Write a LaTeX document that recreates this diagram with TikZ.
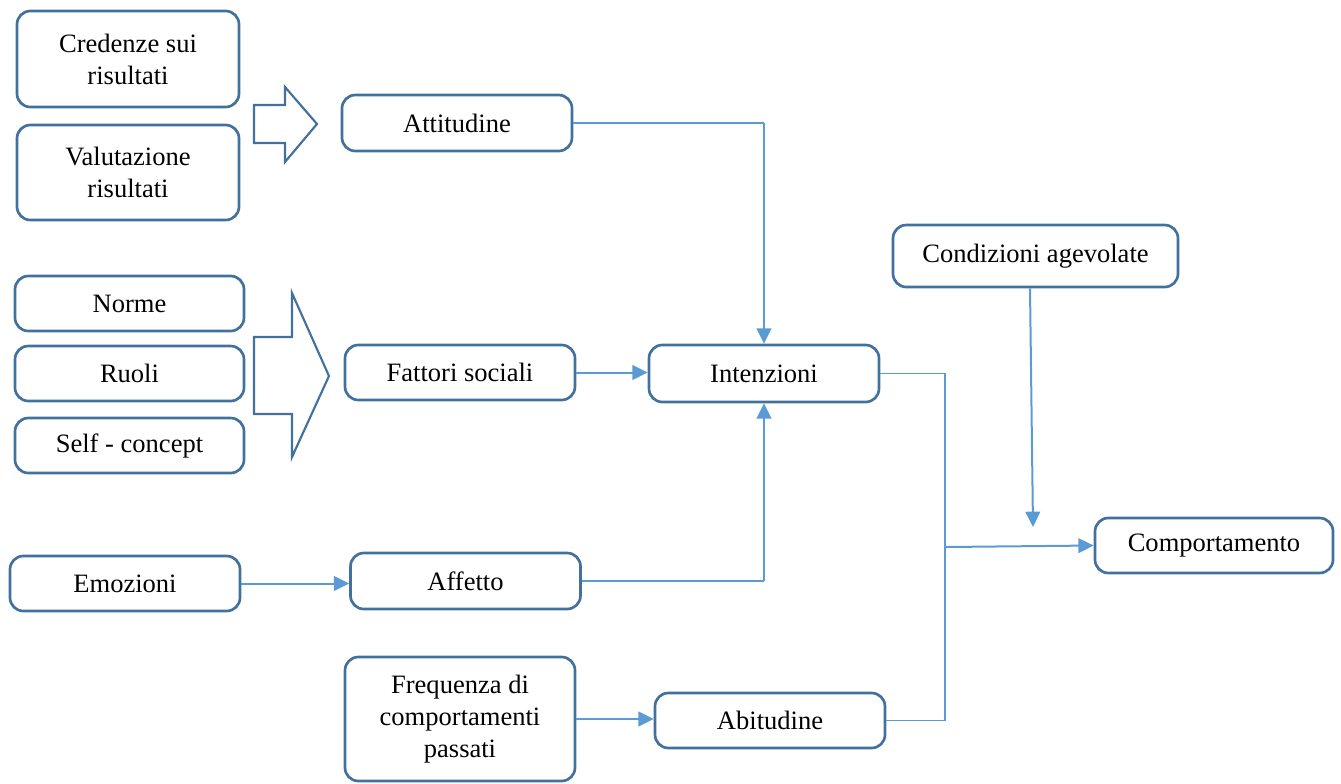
\documentclass[tikz,border=0pt]{standalone}
\usepackage{fontspec}
\setmainfont{Liberation Serif}
\usepackage{xcolor}
\usetikzlibrary{arrows.meta}
\definecolor{boxblue}{RGB}{65,113,156}
\definecolor{linkblue}{RGB}{91,155,213}
\tikzset{
  blk/.style={draw=boxblue, line width=2pt, rounded corners=10pt, fill=white,
    align=center, inner sep=0pt, minimum width=172.5pt, minimum height=41.25pt,
    font=\fontsize{19.9}{24}\selectfont},
  bigarr/.style={draw=boxblue, line width=1.6pt, fill=white, line join=miter},
  thinlink/.style={draw=linkblue, line width=0.8pt},
  arrlink/.style={draw=linkblue, line width=1.5pt, -{Triangle[length=11.5pt,width=11pt]}}
}
\begin{document}
\begin{tikzpicture}[x=0.75pt,y=0.75pt,yscale=-1,xscale=1]
\useasboundingbox (0,0) rectangle (1341,783);

%Shape: Rounded Rectangle [left column]
\node[blk, minimum width=166.5pt, minimum height=72pt] (cred) at (128,59) {Credenze sui\\risultati};
\node[blk, minimum width=166.5pt, minimum height=71.25pt] (valu) at (128,172.5) {Valutazione\\risultati};
\node[blk, minimum width=171.75pt] (norme) at (129.5,303.5) {Norme};
\node[blk, minimum width=171.75pt] (ruoli) at (129.5,373.5) {Ruoli};
\node[blk, minimum width=171.75pt] (self) at (129.5,445.5) {Self - concept};
\node[blk] (emoz) at (125,583.5) {Emozioni};

%Shape: Rounded Rectangle [middle column]
\node[blk, minimum height=42pt] (att) at (457,123) {Attitudine};
\node[blk] (fatt) at (460,372.5) {Fattori sociali};
\node[blk, minimum height=42pt] (aff) at (465.5,581) {Affetto};
\node[blk, minimum height=93pt] (freq) at (460,719) {Frequenza di\\comportamenti\\passati};

%Shape: Rounded Rectangle [right part]
\node[blk, minimum height=42.75pt] (inten) at (764,373.5) {Intenzioni};
\node[blk] (abit) at (770,720.5) {Abitudine};
\node[blk, minimum width=213.75pt, minimum height=46.5pt] (cond) at (1035.5,256) {Condizioni agevolate};
\node[blk, minimum width=178.5pt] (comp) at (1214,545.5) {Comportamento};

%Shape: Right Arrow [block arrows]
\draw[bigarr] (254,105) -- (285,105) -- (285,87) -- (317,124) -- (285,162) -- (285,143) -- (254,143) -- cycle;
\draw[bigarr] (254,337) -- (292,337) -- (292,293) -- (329,376) -- (292,457) -- (292,414) -- (254,414) -- cycle;

%Straight Lines [junction points]
\coordinate (attc) at (att.east -| inten.north);
\coordinate (affc) at (aff.east -| inten.south);
\coordinate (jtop) at (945,373.5);
\coordinate (jbot) at (945,720.5);
\coordinate (jmid) at (946,547);
\coordinate (condend) at (1033,527);

%Straight Lines [links]
\draw[thinlink] (att.east) -- (attc);
\draw[arrlink] (attc) -- (inten.north);
\draw[arrlink] (fatt.east) -- (fatt.east -| inten.west);
\draw[thinlink] (aff.east) -- (affc);
\draw[arrlink] (affc) -- (inten.south);
\draw[arrlink] (emoz.east) -- (emoz.east -| aff.west);
\draw[arrlink] (freq.east) -- (freq.east -| abit.west);
\draw[thinlink] (inten.east) -- (jtop) -- (jbot) -- (abit.east);
\draw[arrlink] (jmid) -- (comp.west);
\draw[arrlink] (cond.south -| 1030,0) -- (condend);
\end{tikzpicture}
\end{document}
